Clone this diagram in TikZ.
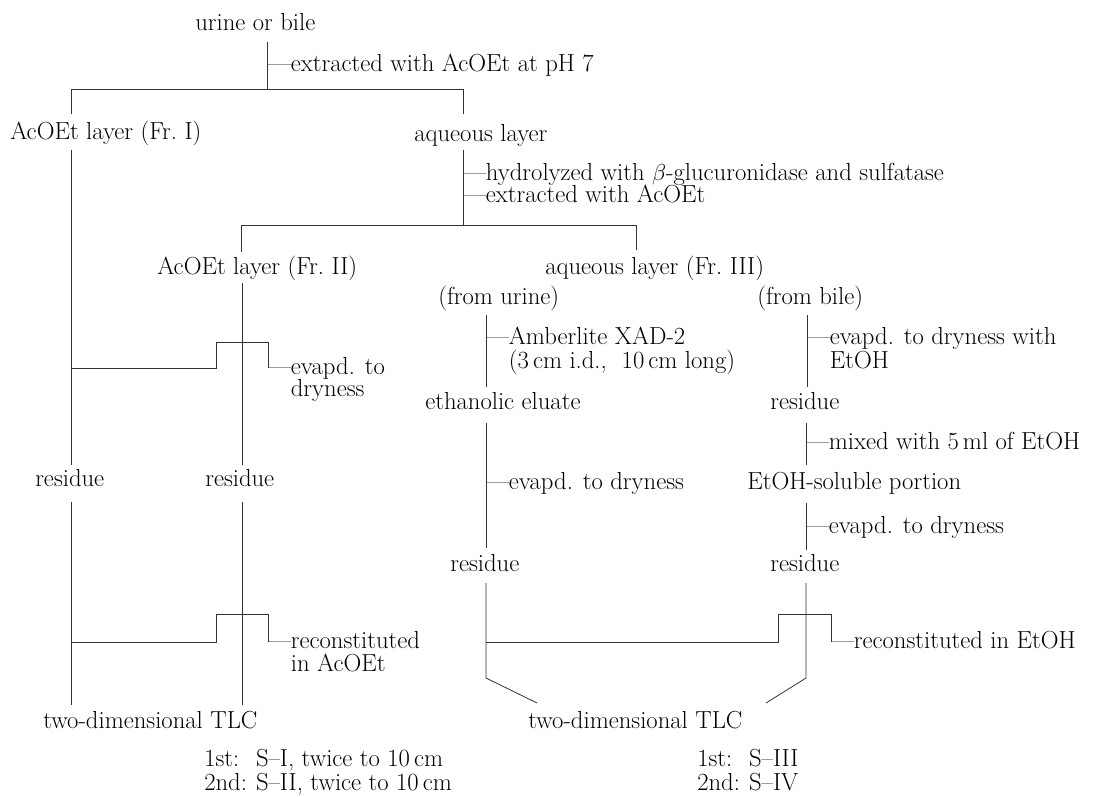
\documentclass[tikz,border=0pt]{standalone}
\newcommand\twolines[3][17pt]{\vtop{\baselineskip=#1\lineskiplimit=-\maxdimen\lineskip=0pt\hbox{#2}\hbox{#3}}}
\begin{document}
\begin{tikzpicture}[x=0.75pt,y=-0.75pt,
  lbl/.style={inner sep=0pt, anchor=base west, font=\fontsize{18.5}{22}\selectfont},
  ln/.style={line width=0.6pt, draw=black!80}]
\useasboundingbox (0,0) rectangle (1105,796);
% ---------- texts ----------
\node[lbl] (urine) at (195,31) {urine or bile};
\node[lbl] (ext1) at (268,71) {---extracted with AcOEt at pH 7};
\node[lbl] (fr1) at (10,139) {AcOEt layer (Fr.~I)};
\node[lbl] (aq1) at (414,141) {aqueous layer};
\node[lbl] (hyd) at (463,180) {\twolines[16.75pt]{---hydrolyzed with $\beta$-glucuronidase and sulfatase}{---extracted with AcOEt}};
\node[lbl] (fr2) at (157,274) {AcOEt layer (Fr.~II)};
\node[lbl] (fr3) at (545,274) {aqueous layer (Fr.~III)};
\node[lbl] (fromu) at (438,304) {(from urine)};
\node[lbl] (fromb) at (757,304) {(from bile)};
\node[lbl] (evap1) at (268,374) {\twolines{---evapd. to}{\phantom{---}dryness}};
\node[lbl] (amb) at (486,344) {\twolines[18pt]{---Amberlite XAD-2}{\phantom{---}(3\,cm i.d.,\ \ 10\,cm long)}};
\node[lbl] (evb) at (807,344) {\twolines[18pt]{---evapd. to dryness with}{\phantom{---}EtOH}};
\node[lbl] (eluate) at (425,409) {ethanolic eluate};
\node[lbl] (resb1) at (770,409) {residue};
\node[lbl] (mix) at (806,449) {---mixed with 5\,ml of EtOH};
\node[lbl] (res1) at (35,486) {residue};
\node[lbl] (res2) at (205,486) {residue};
\node[lbl] (evu) at (486,489) {---evapd. to dryness};
\node[lbl] (sol) at (747,489) {EtOH-soluble portion};
\node[lbl] (evb3) at (806,533) {---evapd. to dryness};
\node[lbl] (resu) at (450,571) {residue};
\node[lbl] (resb2) at (770,571) {residue};
\node[lbl] (rec1) at (268,648) {\twolines[17.25pt]{---reconstituted}{\phantom{---}in AcOEt}};
\node[lbl] (rec2) at (831,648) {---reconstituted in EtOH};
\node[lbl] (tlc1) at (43,728) {two-dimensional TLC};
\node[lbl] (tlc2) at (528,728) {two-dimensional TLC};
\node[lbl] (s1) at (204,766) {\twolines[18pt]{\makebox[2.1em][l]{1st:}S--I, twice to 10\,cm}{\makebox[2.1em][l]{2nd:}S--II, twice to 10\,cm}};
\node[lbl] (s3) at (697,766) {\twolines[18pt]{\makebox[2.1em][l]{1st:}S--III}{\makebox[2.1em][l]{2nd:}S--IV}};
% ---------- junction points ----------
\coordinate (a0) at (267,42);  \coordinate (a1) at (267,89);
\coordinate (b0) at (71,114);  \coordinate (b1) at (71,89);
\coordinate (b2) at (463,89);  \coordinate (b3) at (463,114);
\coordinate (c0) at (71,150);  \coordinate (c1) at (71,465);
\coordinate (d0) at (463,150); \coordinate (d1) at (463,225);
\coordinate (e0) at (241,252); \coordinate (e1) at (241,225);
\coordinate (e2) at (636,225); \coordinate (e3) at (636,250);
\coordinate (f0) at (242,283); \coordinate (f1) at (242,465);
\coordinate (g0) at (71,368);  \coordinate (g1) at (216,368);
\coordinate (g2) at (216,342); \coordinate (g3) at (268,342);
\coordinate (g4) at (268,368);
\coordinate (u0) at (486,315); \coordinate (u1) at (486,387);
\coordinate (u2) at (486,423); \coordinate (u3) at (486,548);
\coordinate (u4) at (486,583); \coordinate (u5) at (486,678);
\coordinate (u6) at (537,703);
\coordinate (v0) at (807,315); \coordinate (v1) at (807,387);
\coordinate (v2) at (806,423); \coordinate (v3) at (806,465);
\coordinate (v4) at (806,503); \coordinate (v5) at (806,550);
\coordinate (v6) at (806,583); \coordinate (v7) at (806,678);
\coordinate (v8) at (766,703);
\coordinate (w0) at (486,642); \coordinate (w1) at (778,642);
\coordinate (w2) at (778,614); \coordinate (w3) at (831,614);
\coordinate (w4) at (831,642);
\coordinate (p0) at (71,502);  \coordinate (p1) at (71,705);
\coordinate (q0) at (242,502); \coordinate (q1) at (242,705);
\coordinate (r0) at (71,642);  \coordinate (r1) at (216,642);
\coordinate (r2) at (216,614); \coordinate (r3) at (268,614);
\coordinate (r4) at (268,642);
% ---------- connectors ----------
\draw[ln] (a0) -- (a1);
\draw[ln] (b0) -- (b1) -- (b2) -- (b3);
\draw[ln] (c0) -- (c1);
\draw[ln] (d0) -- (d1);
\draw[ln] (e0) -- (e1) -- (e2) -- (e3);
\draw[ln] (f0) -- (f1);
\draw[ln] (g0) -- (g1) -- (g2) -- (g3) -- (g4);
\draw[ln] (u0) -- (u1);
\draw[ln] (u2) -- (u3);
\draw[ln] (u4) -- (u5) -- (u6);
\draw[ln] (v0) -- (v1);
\draw[ln] (v2) -- (v3);
\draw[ln] (v4) -- (v5);
\draw[ln] (v6) -- (v7) -- (v8);
\draw[ln] (w0) -- (w1) -- (w2) -- (w3) -- (w4);
\draw[ln] (p0) -- (p1);
\draw[ln] (q0) -- (q1);
\draw[ln] (r0) -- (r1) -- (r2) -- (r3) -- (r4);
\end{tikzpicture}
\end{document}
